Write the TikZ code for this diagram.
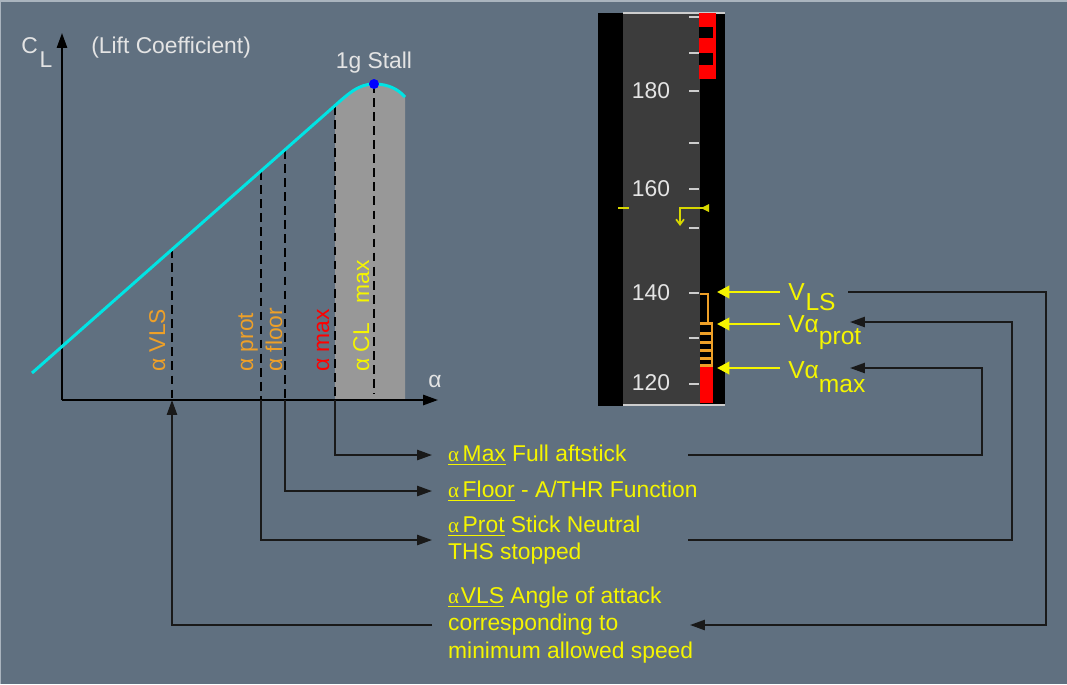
\documentclass[tikz,border=0pt]{standalone}
\usepackage{fontspec}
\setmainfont{Liberation Sans}
\newfontfamily\greekserif{Liberation Serif}
\usetikzlibrary{arrows.meta,positioning}
\definecolor{bgslate}{RGB}{96,112,128}
\definecolor{edgegray}{RGB}{170,180,190}
\definecolor{tapegray}{RGB}{60,60,60}
\definecolor{tickgray}{RGB}{205,205,205}
\definecolor{txtgray}{RGB}{228,228,228}
\definecolor{cyanline}{RGB}{0,228,228}
\definecolor{stallgray}{RGB}{152,152,152}
\definecolor{amber}{RGB}{238,160,40}
\definecolor{ylw}{RGB}{245,245,0}
\definecolor{ylwdim}{RGB}{215,215,0}
\newcommand{\salpha}{{\greekserif\fontsize{12}{12}\selectfont α}}

\begin{document}
\begin{tikzpicture}[
    x=0.02cm, y=-0.02cm,
    >={Triangle[length=8.5pt,width=5.8pt]},
    every node/.style={font=\fontsize{13}{15.5}\selectfont, inner sep=0pt},
    axis/.style={->, black, line width=1.2pt},
    guide/.style={black, line width=1.1pt, dash pattern=on 5pt off 3pt},
    conn/.style={black!90, line width=1.1pt},
    rotlabel/.style={rotate=90, anchor=base west},
    note/.style={text=ylw, align=left, anchor=west, inner xsep=9pt},
    vlabel/.style={text=ylw, anchor=base west, inner xsep=4.5pt,
                   font=\fontsize{14}{16}\selectfont},
    yarrow/.style={-{Triangle[length=7pt,width=7pt]}, ylw, line width=1.6pt},
    tick/.style={tickgray, line width=1.1pt},
  ]

  % Background
  \useasboundingbox (0,0) rectangle (1067,684);
  \fill[bgslate] (0,0) rectangle (1067,684);
  \draw[edgegray, line width=0.8pt] (0,684) -- (0,1) -- (1067,1);

  % Stall region under the curve
  \begin{scope}
    \clip (335,0) rectangle (405,400);
    \fill[stallgray] (330,110) .. controls (348,94) and (358,84) .. (374,84)
      .. controls (388,84) and (398,89) .. (405,97) -- (405,400) -- (330,400) -- cycle;
  \end{scope}

  % Angle of attack marks
  \coordinate (o) at (62,400);
  \coordinate (ytip) at (62,33);
  \coordinate (xtip) at (438,400);
  \coordinate (avls) at (172,249);
  \coordinate (aprot) at (261,171);
  \coordinate (afloor) at (285,150);
  \coordinate (amax) at (335,106);
  \coordinate (aclmax) at (374,84);
  \foreach \m in {avls,aprot,afloor,amax}
    \draw[guide] (\m) -- (\m |- o);
  \draw[guide] (aclmax) -- ++(0,310);

  % Axes and lift curve
  \draw[axis] (o) -- (ytip);
  \draw[axis] (o) -- (xtip);
  \draw[cyanline, line width=1.7pt] (32,373) -- (330,110)
    .. controls (348,94) and (358,84) .. (374,84)
    .. controls (388,84) and (398,89) .. (405,97);
  \fill[blue] (aclmax) circle (5);

  \node[text=txtgray, anchor=base west] (cl) at (21,53)
    {C\kern1pt\raisebox{-8.5pt}{L}};
  \node[text=txtgray, anchor=base west] (lift) at (91,53) {(Lift Coefficient)};
  \node[text=txtgray, anchor=base] (stall) at (374,68) {1g Stall};
  \node[text=txtgray, anchor=base west] (alab) at (428,387) {α};

  \node[rotlabel, text=amber] (lvls) at (165,372) {α VLS};
  \node[rotlabel, text=amber] (lprot) at (253,372) {α prot};
  \node[rotlabel, text=amber] (lfloor) at (282,372) {α floor};
  \node[rotlabel, text=red] (lmax) at (329,372) {α max};
  \node[rotlabel, text=ylw] (lclmax) at (369,372) {α CL\hspace{11pt}max};

  % Speed tape
  \fill[black] (598,13) rectangle (725,406);
  \fill[tapegray] (623,13) rectangle (700,406);
  \draw[tickgray, line width=0.8pt] (623,13) -- (725,13);
  \draw[tickgray, line width=0.8pt] (623,405) -- (725,405);
  \foreach \yy in {17,53,91,143,189,228,293,338,384}
    \draw[tick] (689,\yy) -- (699,\yy);
  \foreach \v/\yy in {180/91,160/189,140/293,120/383}
    \node[text=txtgray] (spd\v) at (651,\yy) {\v};

  % overspeed barber pole and low speed bands
  \fill[red] (699,13) rectangle (716,79);
  \fill[black] (699,27) rectangle (713,38);
  \fill[black] (699,53) rectangle (713,65);
  \fill[red] (700,367) rectangle (713,403);
  \draw[amber, line width=1.1pt] (700,294) -- (708,294) -- (708,323);
  \draw[amber, line width=1.1pt] (712,323) -- (712,367);
  \foreach \yy in {323,333,342,350,358,365}
    \draw[amber, line width=1.7pt] (700,\yy) -- (713,\yy);

  % speed target and trend
  \draw[ylwdim, line width=1.2pt] (618,208) -- (629,208);
  \draw[-{Straight Barb[length=3pt,width=4.5pt]}, ylwdim, line width=1pt]
    (704,208) -- (680,208) -- (680,226);
  \fill[ylwdim] (701,208) -- (709,204) -- (709,212) -- cycle;

  % Speed labels
  \node[vlabel] (vls) at (780,300) {V\kern0.5pt\raisebox{-6pt}{LS}};
  \node[vlabel] (vaprot) at (780,332) {Vα\raisebox{-7pt}{prot}};
  \node[vlabel] (vamax) at (780,378) {Vα\raisebox{-8pt}{max}};
  \coordinate (vlsmark) at (717,292);
  \coordinate (vaprotmark) at (717,324);
  \coordinate (vamaxmark) at (717,368);
  \draw[yarrow] (vlsmark -| vls.west) -- (vlsmark);
  \draw[yarrow] (vaprotmark -| vaprot.west) -- (vaprotmark);
  \draw[yarrow] (vamaxmark -| vamax.west) -- (vamaxmark);

  % Protection notes
  \node[note] (txtmax) at (432,455)
    {\underline{\salpha\hspace{2pt}Max} Full aftstick};
  \node[note] (txtfloor) at (432,491)
    {\underline{\salpha\hspace{2pt}Floor} - A/THR Function};
  \node[note] (txtprot) at (432,540)
    {\underline{\salpha\hspace{2pt}Prot} Stick Neutral\\THS stopped};
  \node[note] (txtvls) at (432,625)
    {\underline{\salpha\hspace{1pt}VLS} Angle of attack\\corresponding to\\minimum allowed speed};

  % Arrows
  \draw[conn,->] (amax |- o) |- (txtmax.west);
  \draw[conn,->] (afloor |- o) |- (txtfloor.west);
  \draw[conn,->] (aprot |- o) |- (txtprot.west);
  \draw[conn,->] (txtvls.west) -| (avls |- o);

  \coordinate (rcol) at (688,0);
  \coordinate (vlsout) at (848,292);
  \coordinate (vlsin) at (690,625);
  \coordinate (vaprotin) at (850,322);
  \coordinate (vamaxin) at (850,368);
  \draw[conn,->] (txtmax.west -| rcol) -- ++(294,0) |- (vamaxin);
  \draw[conn,->] (txtprot.west -| rcol) -- ++(324,0) |- (vaprotin);
  \draw[conn,->] (vlsout) -- ++(198,0) |- (vlsin);

\end{tikzpicture}
\end{document}
